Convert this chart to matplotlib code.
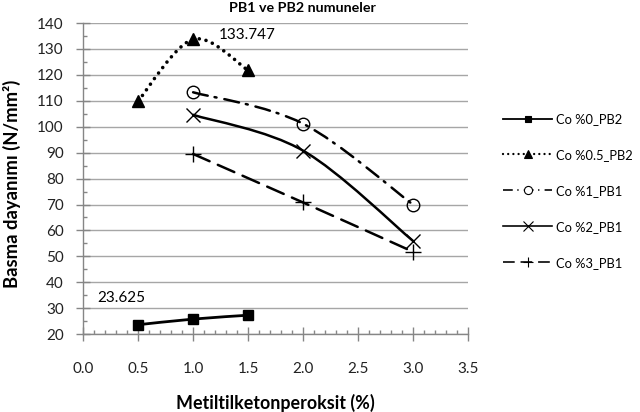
import numpy as np
import matplotlib
matplotlib.use('Agg')
import matplotlib.pyplot as plt
from matplotlib.path import Path
from matplotlib.patches import PathPatch
from matplotlib.lines import Line2D
from matplotlib.ticker import MultipleLocator

plt.rcParams['font.family'] = ['Lato', 'DejaVu Sans']

# veriler
x_pb2 = [0.5, 1.0, 1.5]
x_pb1 = [1.0, 2.0, 3.0]
co0_pb2 = [23.625, 25.8, 27.3]
co05_pb2 = [110.0, 133.747, 121.8]
co1_pb1 = [113.3, 101.2, 70.0]
co2_pb1 = [104.6, 90.8, 56.0]
co3_pb1 = [89.5, 70.8, 51.8]

labels = ['Co %0_PB2', 'Co %0.5_PB2', 'Co %1_PB1', 'Co %2_PB1', 'Co %3_PB1']
xticks = [0.0, 0.5, 1.0, 1.5, 2.0, 2.5, 3.0, 3.5]
yticks = list(range(20, 141, 10))

GRAY = '#868686'


def smooth_path(x, y):
    # excel benzeri yumusak egri (bezier)
    p = np.column_stack([x, y]).astype(float)
    ext = np.vstack([p[0], p, p[-1]])
    verts = [p[0]]
    codes = [Path.MOVETO]
    for i in range(len(p) - 1):
        c1 = ext[i + 1] + (ext[i + 2] - ext[i]) / 6
        c2 = ext[i + 2] - (ext[i + 3] - ext[i + 1]) / 6
        verts += [c1, c2, p[i + 1]]
        codes += [Path.CURVE4] * 3
    return Path(verts, codes)


def fit_text(fig, txt, target, vertical=False):
    # yazi boyutunu hedef piksel uzunluguna gore ayarla
    r = fig.canvas.get_renderer()
    bb = txt.get_window_extent(renderer=r)
    cur = bb.height if vertical else bb.width
    txt.set_fontsize(txt.get_fontsize() * target / cur)


series = [
    (x_pb2, co0_pb2, '-', 's', 'k', 2.0, 7),
    (x_pb2, co05_pb2, (0, (0.01, 1.9)), '^', 'k', 2.6, 8),
    (x_pb1, co1_pb1, (0, (6, 2.8, 0.8, 3.2)), 'o', 'none', 1.8, 9),
    (x_pb1, co2_pb1, '-', 'x', 'k', 1.8, 10),
    (x_pb1, co3_pb1, (0, (7.2, 3.6)), '+', 'k', 1.8, 11),
]

fig = plt.figure(figsize=(6.4, 4.12), dpi=100)
ax = fig.add_axes([0.130, 0.189, 0.601, 0.755])

handles = []
for (xs, ys, ls, mk, fc, lw, ms), lab in zip(series, labels):
    patch = PathPatch(smooth_path(xs, ys), facecolor='none', edgecolor='k',
                      lw=lw, linestyle=ls, capstyle='round', zorder=3)
    ax.add_patch(patch)
    ax.plot(xs, ys, linestyle='none', marker=mk, color='k', markerfacecolor=fc,
            markersize=ms, markeredgewidth=1.0, zorder=4)
    hls = ls if lab != labels[1] else (0, (0.01, 2.2))
    handles.append(Line2D([], [], color='k', lw=lw * 0.65, linestyle=hls,
                          dash_capstyle='round' if lab == labels[1] else 'butt',
                          marker=mk, markerfacecolor=fc if fc != 'none' else 'white',
                          markersize=ms * 0.65, markeredgewidth=0.8))

ax.set_xlim(0, 3.5)
ax.set_ylim(20, 140)
ax.set_xticks(xticks)
ax.set_xticklabels([f'{v:.1f}' for v in xticks])
ax.set_yticks(yticks)
ax.xaxis.set_minor_locator(MultipleLocator(0.1))
ax.yaxis.set_minor_locator(MultipleLocator(5))

ax.grid(axis='y', which='major', color='#a6a6a6', lw=1.0)
ax.set_axisbelow(True)
for s in ['top', 'right']:
    ax.spines[s].set_visible(False)
for s in ['left', 'bottom']:
    ax.spines[s].set_color(GRAY)
    ax.spines[s].set_linewidth(1.0)

ax.tick_params(which='major', direction='inout', length=10, width=1, color=GRAY,
               labelsize=11, labelcolor='#222222')
ax.tick_params(axis='y', which='major', pad=9)
ax.tick_params(axis='x', which='major', pad=15)
ax.tick_params(which='minor', direction='in', length=3, width=1, color=GRAY)

xl = ax.set_xlabel('Metiltilketonperoksit (%)', fontsize=11, fontweight='bold')
yl = ax.set_ylabel('Basma dayanımı (N/mm²)', fontsize=10, fontweight='bold')
ax.xaxis.set_label_coords(275 / 640, 1 - 394 / 412, transform=fig.transFigure)
ax.yaxis.set_label_coords(21 / 640, 1 - 184 / 412, transform=fig.transFigure)
fit_text(fig, xl, 197)
fit_text(fig, yl, 208, vertical=True)

tt = fig.text(302 / 640, 1 - 8 / 412, 'PB1 ve PB2 numuneler', ha='center', va='center',
              fontsize=8.5, fontweight='bold')
fit_text(fig, tt, 146)

ax.text(1.23, 135.4, '133.747', fontsize=11, va='center', ha='left', clip_on=False)
ax.text(0.13, 33.9, '23.625', fontsize=11, va='center', ha='left')

fig.legend(handles=handles, labels=labels, loc='upper left',
           bbox_to_anchor=(0.778, 0.738), frameon=False, fontsize=9.3,
           handlelength=3.8, handletextpad=0.3, labelspacing=1.85,
           borderaxespad=0)

fig.savefig('out.png', dpi=100)
